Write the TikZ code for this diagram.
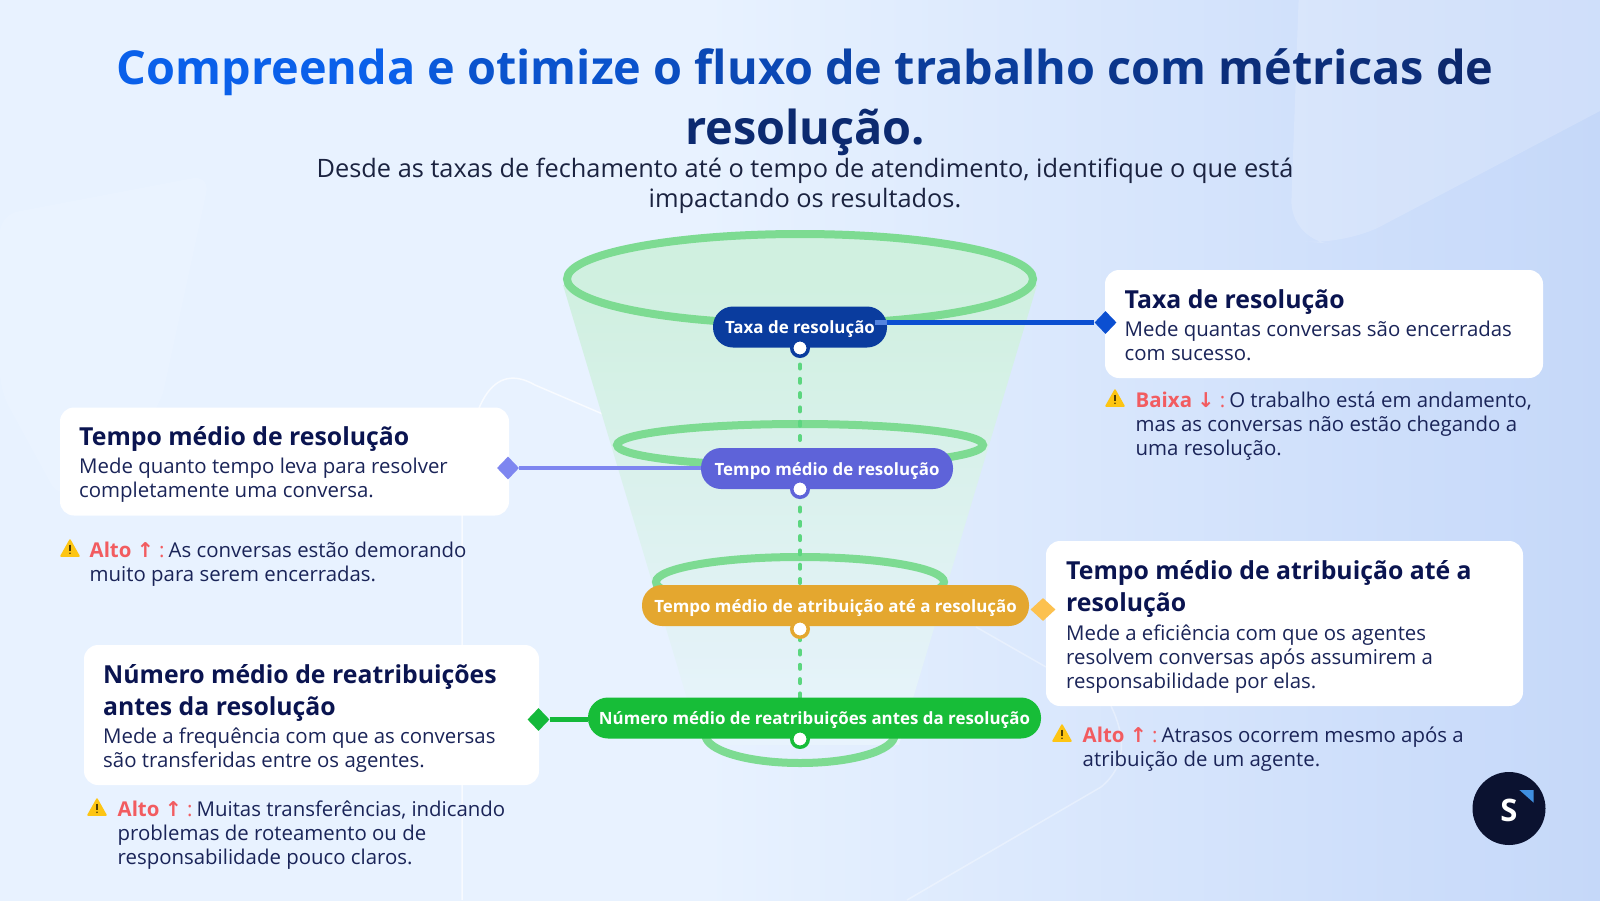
\documentclass[tikz,border=0pt]{standalone}
\usepackage{fontspec}
\setmainfont{Open Sans}
\newfontfamily\arrowfont{DejaVu Sans}
\usetikzlibrary{shapes.geometric}

\definecolor{bgleft}{HTML}{E8F2FF}
\definecolor{bgright}{HTML}{C5D8F9}
\definecolor{titleblue}{HTML}{0A60EA}
\definecolor{titlenavy}{HTML}{0C2566}
\definecolor{headnavy}{HTML}{0A1450}
\definecolor{bodynavy}{HTML}{1A2458}
\definecolor{subdark}{HTML}{1B2340}
\definecolor{ringgreen}{HTML}{7DDB92}
\definecolor{funneltop}{HTML}{D0F0E0}
\definecolor{funnelbot}{HTML}{E8F3FD}
\definecolor{dashgreen}{HTML}{5CD67F}
\definecolor{taxablue}{HTML}{0A3C9E}
\definecolor{taxadiam}{HTML}{0B4FD1}
\definecolor{tempoviolet}{HTML}{5E63D9}
\definecolor{tempodiam}{HTML}{7E86F0}
\definecolor{atribgold}{HTML}{E4A72F}
\definecolor{atribdiam}{HTML}{FCC14F}
\definecolor{numgreen}{HTML}{17BD38}
\definecolor{numdiam}{HTML}{14B93A}
\definecolor{alertred}{HTML}{F25C60}
\definecolor{warnyellow}{HTML}{FDC513}
\definecolor{logodark}{HTML}{0B1230}
\definecolor{logoblue}{HTML}{3F8FE0}

\pgfdeclarehorizontalshading{bgfade}{100bp}{color(0bp)=(bgleft); color(25bp)=(bgleft); color(47bp)=(bgleft); color(75bp)=(bgright); color(100bp)=(bgright)}

\newcommand{\tw}[2]{\textcolor{titleblue!#1!titlenavy}{#2}}
\newcommand{\warnlabel}[2]{\textcolor{alertred}{\bfseries #1 {\arrowfont #2} \mdseries:}\kern-3pt\relax}

\tikzset{
  warnicon/.pic={
    \draw[fill=warnyellow, draw=warnyellow, line width=1.5pt, line join=round]
      (10,1) -- (19,17) -- (1,17) -- cycle;
    \draw[draw=black!70!warnyellow, line width=1.4pt] (10,5.5) -- (10,12);
    \fill[black!70!warnyellow] (10,14.3) circle (0.9);
  }
}

\begin{document}
\begin{tikzpicture}[x=1pt, y=-1pt,
    card/.style={draw=none, fill=white, rectangle, rounded corners=14pt, inner sep=0pt},
    cardhead/.style={anchor=north west, inner sep=0pt, align=left, text=headnavy,
        font=\fontsize{24.8}{32.5}\selectfont\bfseries, execute at begin node=\rule{0pt}{20pt}},
    cardbody/.style={anchor=north west, inner sep=0pt, align=left, text=bodynavy,
        font=\fontsize{20.4}{24}\selectfont, execute at begin node=\rule{0pt}{16pt}},
    pill/.style={rectangle, rounded corners=20pt, inner sep=0pt, minimum height=41pt,
        text height=13pt, text depth=0pt,
        text=white, font=\fontsize{16.9}{20}\selectfont\bfseries},
    diam/.style={diamond, inner sep=0pt, minimum width=22pt, minimum height=23pt},
    knob/.style={circle, fill=white, line width=3.5pt, inner sep=0pt, minimum size=16.5pt},
    ring/.style={draw=ringgreen, line width=8pt},
    link/.style={line width=4.5pt},
    dashlink/.style={draw=dashgreen, line width=4pt, line cap=round, dash pattern=on 4pt off 10.3pt, dash phase=12.1pt},
    deco/.style={draw=white, opacity=0.7, line width=1.5pt}]

\useasboundingbox (0,0) rectangle (1600,900);
\shade[shading=bgfade] (0,0) rectangle (1600,900);

% faint background shapes
\fill[white, opacity=0.12, rounded corners=18pt] (0,215) -- (210,175) -- (160,407) -- (60,500) -- (0,390) -- cycle;
\fill[white, opacity=0.18, rounded corners=40pt] (1300,-40) -- (1290,240) -- (1345,245) -- (1640,90) -- (1640,-40) -- cycle;
\draw[deco] (462,900) -- (462,515) .. controls (466,395) and (495,362) .. (535,385) -- (605,415);
\draw[deco, opacity=0.35] (976,627) -- (1046,667);
\draw[deco, opacity=0.35] (1111,706) .. controls (1125,735) and (1128,765) .. (1101,787) -- (907,900);

% funnel
\fill[funneltop] (800,279) ellipse [x radius=233, y radius=45];
\shade[top color=funneltop, bottom color=funnelbot] (563,285) -- (1037,285) -- (899,745) -- (701,745) -- cycle;
\draw[ring] (800,279) ellipse [x radius=233, y radius=45];
\draw[ring] (800,445) ellipse [x radius=183, y radius=21];
\draw[ring] (800,582) ellipse [x radius=144, y radius=25];
\draw[ring] (800,735) ellipse [x radius=94.5, y radius=28];

% title
\node[inner sep=0pt, align=center, font=\fontsize{46.8}{60}\selectfont\bfseries, execute at begin node=\rule{0pt}{40pt}, anchor=north] (title) at (805,48.5)
  {\tw{100}{Compreenda} \tw{88}{e} \tw{78}{otimize} \tw{68}{o} \tw{60}{fluxo} \tw{50}{de} \tw{40}{trabalho} \tw{27}{com} \tw{15}{métricas} \tw{5}{de}\\ \tw{8}{resolução.}};
\node[inner sep=0pt, align=center, text=subdark, font=\fontsize{25.35}{30.5}\selectfont, execute at begin node=\rule{0pt}{20pt}, anchor=north] (subtitle) at (805,157.5)
  {Desde as taxas de fechamento até o tempo de atendimento, identifique o que está\\ impactando os resultados.};

% cards
\node[card, minimum width=438pt, minimum height=108pt] (taxacard) at (1324,324) {};
\node[card, minimum width=449pt, minimum height=108pt] (tempocard) at (284.5,461.5) {};
\node[card, minimum width=477pt, minimum height=165pt] (atribcard) at (1284.5,623.5) {};
\node[card, minimum width=455pt, minimum height=140pt] (numcard) at (311.5,715) {};

\node[cardhead] (taxahead) at (1124.5,288) {Taxa de resolução};
\node[cardbody] (taxabody) at (1124.5,321) {Mede quantas conversas são encerradas\\ com sucesso.};
\node[cardhead] (tempohead) at (79,425.5) {Tempo médio de resolução};
\node[cardbody] (tempobody) at (79,458) {Mede quanto tempo leva para resolver\\ completamente uma conversa.};
\node[cardhead] (atribhead) at (1066,560) {Tempo médio de atribuição até a\\ resolução};
\node[cardbody] (atribbody) at (1066,625) {Mede a eficiência com que os agentes\\ resolvem conversas após assumirem a\\ responsabilidade por elas.};
\node[cardhead] (numhead) at (103,664) {Número médio de reatribuições\\ antes da resolução};
\node[cardbody] (numbody) at (103,728) {Mede a frequência com que as conversas\\ são transferidas entre os agentes.};

% warnings
\pic at (1105,389) {warnicon};
\node[cardbody] (taxawarn) at (1135.5,392) {\warnlabel{Baixa}{↓} O trabalho está em andamento,\\ mas as conversas não estão chegando a\\ uma resolução.};
\pic at (60,539) {warnicon};
\node[cardbody] (tempowarn) at (89.5,542) {\warnlabel{Alto}{↑} As conversas estão demorando\\ muito para serem encerradas.};
\pic at (1052,724) {warnicon};
\node[cardbody] (atribwarn) at (1082.5,727) {\warnlabel{Alto}{↑} Atrasos ocorrem mesmo após a\\ atribuição de um agente.};
\pic at (87,798) {warnicon};
\node[cardbody] (numwarn) at (117.5,801) {\warnlabel{Alto}{↑} Muitas transferências, indicando\\ problemas de roteamento ou de\\ responsabilidade pouco claros.};

% axis behind the pills
\coordinate (taxaaxis) at (800,348);
\coordinate (tempoaxis) at (800,489);
\coordinate (atribaxis) at (800,629);
\coordinate (numaxis) at (800,739);
\draw[dashlink] (taxaaxis) -- (tempoaxis) -- (atribaxis) -- (numaxis);

% pills
\node[pill, fill=taxablue, minimum width=174pt] (taxapill) at (800,327) {Taxa de resolução};
\node[pill, fill=tempoviolet, minimum width=252pt] (tempopill) at (827,468.5) {Tempo médio de resolução};
\node[pill, fill=atribgold, minimum width=387pt] (atribpill) at (835.5,605.5) {Tempo médio de atribuição até a resolução};
\node[pill, fill=numgreen, minimum width=453pt] (numpill) at (814.5,718) {Número médio de reatribuições antes da resolução};

% diamonds and links
\node[diam, fill=taxadiam] (taxadiam) at (1105.5,322.5) {};
\node[diam, fill=tempodiam] (tempodiam) at (508,468) {};
\node[diam, fill=atribdiam, minimum width=25pt] (atribdiam) at (1043,609.5) {};
\node[diam, fill=numdiam] (numdiam) at (538.5,719.5) {};
\draw[link, draw=taxadiam!70!white] ([xshift=-12pt]taxapill.east |- taxadiam) -- (taxapill.east |- taxadiam);
\draw[link, draw=taxadiam] (taxapill.east |- taxadiam) -- (taxadiam);
\draw[link, draw=tempodiam] (tempodiam) -- (tempopill.west |- tempodiam);
\draw[link, draw=numdiam] (numdiam) -- (numpill.west |- numdiam);

% knobs on the axis
\node[knob, draw=taxablue] (taxaknob) at (taxaaxis) {};
\node[knob, draw=tempoviolet] (tempoknob) at (tempoaxis) {};
\node[knob, draw=atribgold] (atribknob) at (atribaxis) {};
\node[knob, draw=numgreen] (numknob) at (numaxis) {};

% logo
\node[circle, fill=logodark, minimum size=73pt, inner sep=0pt, text=white, text height=25pt, text depth=0pt, font=\fontsize{31}{31}\selectfont\bfseries] (logo) at (1509,808.5) {S};
\fill[logoblue] (1519.4,790) -- (1533.7,790) -- (1533.7,802.7) -- cycle;

\end{tikzpicture}
\end{document}
